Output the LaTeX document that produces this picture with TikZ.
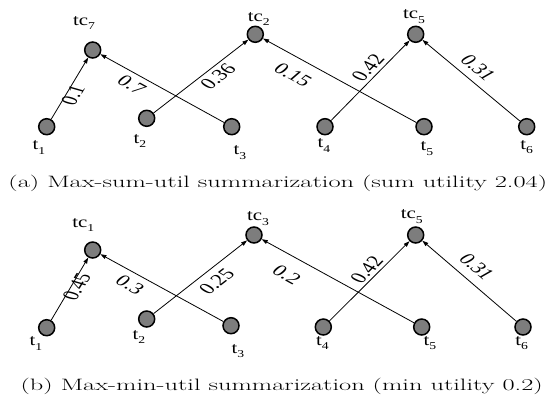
\documentclass[tikz,border=0pt]{standalone}
\usepackage{fontspec}
\newfontfamily\tms{Liberation Serif}
\usetikzlibrary{arrows.meta}
\newcommand\subx[1]{\raisebox{-0.3em}{\fontsize{10.5}{10.5}\selectfont #1}}
\definecolor{dotgray}{RGB}{125,125,125}
\begin{document}
\begin{tikzpicture}[x=1pt,y=-1pt,
  dot/.style={circle, draw=black, line width=1.5pt, fill=dotgray, minimum size=16pt, inner sep=0pt},
  edge/.style={line width=0.8pt, -{Triangle[length=6pt,width=4pt]}},
  nlab/.style={font=\tms\fontsize{16}{16}\selectfont, inner sep=0pt, xscale=1.3},
  elab/.style={font=\tms\fontsize{16}{16}\selectfont, inner sep=0pt, xscale=1.45},
  captext/.style={font=\fontsize{16.5}{18}\selectfont, inner sep=0pt, xscale=1.60}]
\useasboundingbox (0,0) rectangle (553,405);

% ---------- (a) ----------
\node[dot] (a-tc7) at (92.7,50) {};
\node[dot] (a-tc2) at (255.3,34.3) {};
\node[dot] (a-tc5) at (415.7,34.3) {};
\node[dot] (a-t1) at (46.7,126.7) {};
\node[dot] (a-t2) at (146.7,118.3) {};
\node[dot] (a-t3) at (231.7,126.7) {};
\node[dot] (a-t4) at (325,126.7) {};
\node[dot] (a-t5) at (424,126.7) {};
\node[dot] (a-t6) at (526.7,126.7) {};

\draw[edge] (a-t1) -- (a-tc7);
\draw[edge] (a-t3) -- (a-tc7);
\draw[edge] (a-t2) -- (a-tc2);
\draw[edge] (a-t5) -- (a-tc2);
\draw[edge] (a-t4) -- (a-tc5);
\draw[edge] (a-t6) -- (a-tc5);

\node[nlab] (a-ltc7) at (84,23) {tc\subx{7}};
\node[nlab] (a-ltc2) at (258.7,19) {tc\subx{2}};
\node[nlab] (a-ltc5) at (414,16.7) {tc\subx{5}};
\node[nlab] (a-lt1) at (39,147.5) {t\subx{1}};
\node[nlab] (a-lt2) at (140,141) {t\subx{2}};
\node[nlab] (a-lt3) at (240,152.5) {t\subx{3}};
\node[nlab] (a-lt4) at (324,145.7) {t\subx{4}};
\node[nlab] (a-lt5) at (427,148.5) {t\subx{5}};
\node[nlab] (a-lt6) at (526.7,147) {t\subx{6}};

\node[elab, rotate=67.5] (a-e1) at (73,95) {0.1};
\node[elab, rotate=-38.6] (a-e2) at (131.7,85) {0.7};
\node[elab, rotate=48.3] (a-e3) at (218,77) {0.36};
\node[elab, rotate=-38.5] (a-e4) at (293,75) {0.15};
\node[elab, rotate=55.9] (a-e5) at (368,68) {0.42};
\node[elab, rotate=-50.3] (a-e6) at (478,68) {0.31};

\node[captext] (capa) at (277.8,183.3) {(a) Max-sum-util summarization (sum utility 2.04)};

% ---------- (b) ----------
\node[dot] (b-tc1) at (92.7,250) {};
\node[dot] (b-tc3) at (254,235) {};
\node[dot] (b-tc5) at (415.7,235) {};
\node[dot] (b-t1) at (46.7,327.7) {};
\node[dot] (b-t2) at (146.7,319) {};
\node[dot] (b-t3) at (231,325.7) {};
\node[dot] (b-t4) at (323.3,327) {};
\node[dot] (b-t5) at (421.7,327) {};
\node[dot] (b-t6) at (523,327) {};

\draw[edge] (b-t1) -- (b-tc1);
\draw[edge] (b-t3) -- (b-tc1);
\draw[edge] (b-t2) -- (b-tc3);
\draw[edge] (b-t5) -- (b-tc3);
\draw[edge] (b-t4) -- (b-tc5);
\draw[edge] (b-t6) -- (b-tc5);

\node[nlab] (b-ltc1) at (83.3,225) {tc\subx{1}};
\node[nlab] (b-ltc3) at (258,218.3) {tc\subx{3}};
\node[nlab] (b-ltc5) at (411.7,216.7) {tc\subx{5}};
\node[nlab] (b-lt1) at (36,343.3) {t\subx{1}};
\node[nlab] (b-lt2) at (139,337) {t\subx{2}};
\node[nlab] (b-lt3) at (238,351) {t\subx{3}};
\node[nlab] (b-lt4) at (322.5,343) {t\subx{4}};
\node[nlab] (b-lt5) at (430,343) {t\subx{5}};
\node[nlab] (b-lt6) at (521.7,343) {t\subx{6}};

\node[elab, rotate=67.5] (b-e1) at (76.7,286.7) {0.45};
\node[elab, rotate=-38.6] (b-e2) at (130,285) {0.3};
\node[elab, rotate=48.3] (b-e3) at (216.7,281.7) {0.25};
\node[elab, rotate=-38.5] (b-e4) at (286.7,275) {0.2};
\node[elab, rotate=55.9] (b-e5) at (366.7,270) {0.42};
\node[elab, rotate=-50.3] (b-e6) at (476.7,266.7) {0.31};

\node[captext] (capb) at (281.7,386) {(b) Max-min-util summarization (min utility 0.2)};
\end{tikzpicture}
\end{document}
